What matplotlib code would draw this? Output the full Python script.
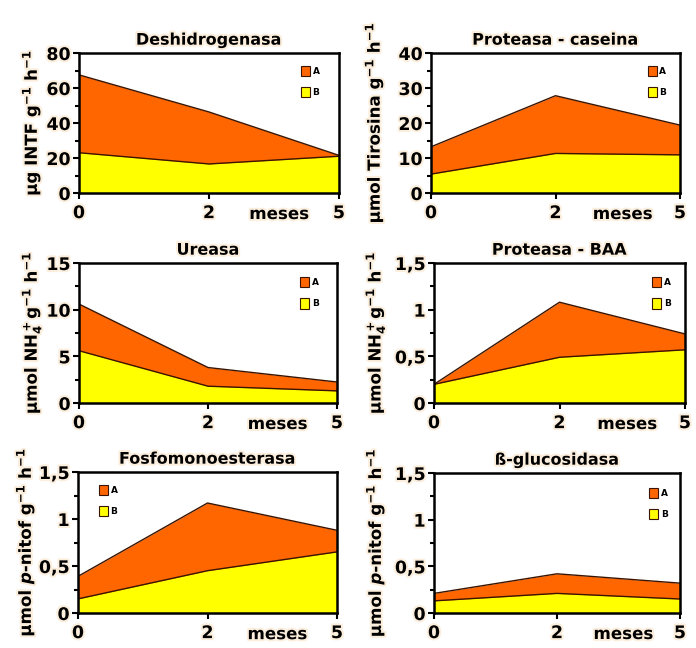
import matplotlib.pyplot as plt
import matplotlib.patheffects as pe
from matplotlib.patches import Patch

plt.rcParams['font.family'] = ['DejaVu Sans']
plt.rcParams['font.weight'] = 'bold'
plt.rcParams['mathtext.default'] = 'bf'

# valores (A = tratamiento A, B = tratamiento B)
meses = ['0', '2', '5']

deshidro_A = [67.5, 46.3, 21.5]
deshidro_B = [23, 16.6, 21]

caseina_A = [13.2, 27.8, 19.4]
caseina_B = [5.4, 11.3, 10.9]

ureasa_A = [10.6, 3.8, 2.25]
ureasa_B = [5.6, 1.8, 1.3]

baa_A = [0.2, 1.08, 0.74]
baa_B = [0.2, 0.49, 0.57]

fosfo_A = [0.39, 1.17, 0.88]
fosfo_B = [0.15, 0.45, 0.65]

gluco_A = [0.21, 0.42, 0.32]
gluco_B = [0.13, 0.21, 0.15]

titulos = ['Deshidrogenasa', 'Proteasa - caseina', 'Ureasa',
           'Proteasa - BAA', 'Fosfomonoesterasa', 'ß-glucosidasa']
ylabels = [r'µg INTF g$^{-1}$ h$^{-1}$',
           r'µmol Tirosina g$^{-1}$ h$^{-1}$',
           r'µmol NH$_4^+$g$^{-1}$ h$^{-1}$',
           r'µmol NH$_4^+$g$^{-1}$ h$^{-1}$',
           r'µmol $\mathit{p}$-nitof g$^{-1}$ h$^{-1}$',
           r'µmol $\mathit{p}$-nitof g$^{-1}$ h$^{-1}$']
serie_A = [deshidro_A, caseina_A, ureasa_A, baa_A, fosfo_A, gluco_A]
serie_B = [deshidro_B, caseina_B, ureasa_B, baa_B, fosfo_B, gluco_B]
yticks = [[0, 20, 40, 60, 80], [0, 10, 20, 30, 40], [0, 5, 10, 15],
          [0, 0.5, 1, 1.5], [0, 0.5, 1, 1.5], [0, 0.5, 1, 1.5]]
yticklabels = [['0', '20', '40', '60', '80'], ['0', '10', '20', '30', '40'],
               ['0', '5', '10', '15'], ['0', '0,5', '1', '1,5'],
               ['0', '0,5', '1', '1,5'], ['0', '0,5', '1', '1,5']]

# posiciones de los ejes en pixeles (izq, der, arriba, abajo)
cajas = [(79, 339, 53, 193), (431, 680, 53, 193),
         (79, 337, 263, 403), (434, 685, 263, 403),
         (78, 337, 472, 613), (434, 680, 473, 613)]
ylab_x = [-0.185, -0.23, -0.185, -0.235, -0.205, -0.24]
leyendas = [('upper right', (0.925, 0.91)), ('upper right', (0.945, 0.91)),
            ('upper right', (0.93, 0.90)), ('upper right', (0.945, 0.90)),
            ('upper left', (0.08, 0.91)), ('upper right', (0.95, 0.895))]

naranja = '#ff6600'
amarillo = '#ffff00'
borde = '#3a1400'
halo = [pe.withStroke(linewidth=3, foreground='#fbeedd')]

W, H = 696, 648
fig = plt.figure(figsize=(W / 100, H / 100), dpi=100)
fig.patch.set_facecolor('white')

for i in range(6):
    l, r, t, b = cajas[i]
    ax = fig.add_axes([l / W, 1 - b / H, (r - l) / W, (b - t) / H])
    x = range(len(meses))
    ax.fill_between(x, 0, serie_A[i], color=naranja, lw=0)
    ax.fill_between(x, 0, serie_B[i], color=amarillo, lw=0)
    ax.plot(x, serie_A[i], color=borde, lw=1)
    ax.plot(x, serie_B[i], color=borde, lw=1)

    ax.set_xlim(0, 2)
    ax.set_ylim(yticks[i][0], yticks[i][-1])
    ax.set_xticks(list(x))
    ax.set_xticklabels(meses)
    ax.set_yticks(yticks[i])
    ax.set_yticklabels(yticklabels[i])
    paso = yticks[i][1] - yticks[i][0]
    ax.set_yticks([v + paso / 2 for v in yticks[i][:-1]], minor=True)
    ax.tick_params(axis='both', labelsize=12.5, width=1.5, length=4, pad=2)
    ax.tick_params(axis='y', which='minor', width=1.5, length=3)
    ax.tick_params(axis='x', pad=4)
    for lab in ax.get_xticklabels() + ax.get_yticklabels():
        lab.set_fontweight('bold')
        lab.set_path_effects(halo)
    for sp in ax.spines.values():
        sp.set_linewidth(1.8)
        sp.set_color('black')

    ax.set_title(titulos[i], fontsize=11.5, fontweight='bold', pad=6,
                 path_effects=halo)
    ax.text(ylab_x[i], 0.5, ylabels[i], transform=ax.transAxes, rotation=90,
            ha='center', va='center', fontsize=12, fontweight='bold',
            path_effects=halo)
    ax.text(0.77, -0.15, 'meses', transform=ax.transAxes, ha='center',
            va='center', fontsize=12, fontweight='bold', path_effects=halo)

    manejadores = [Patch(facecolor=naranja, edgecolor=borde, lw=0.8, label='A'),
                   Patch(facecolor=amarillo, edgecolor=borde, lw=0.8, label='B')]
    loc, anc = leyendas[i]
    ax.legend(handles=manejadores, loc=loc, bbox_to_anchor=anc, frameon=False,
              fontsize=6.5, handlelength=1.0, handleheight=1.4, labelspacing=1.2,
              handletextpad=0.3, borderpad=0, borderaxespad=0)

fig.savefig('out.png', dpi=100)
